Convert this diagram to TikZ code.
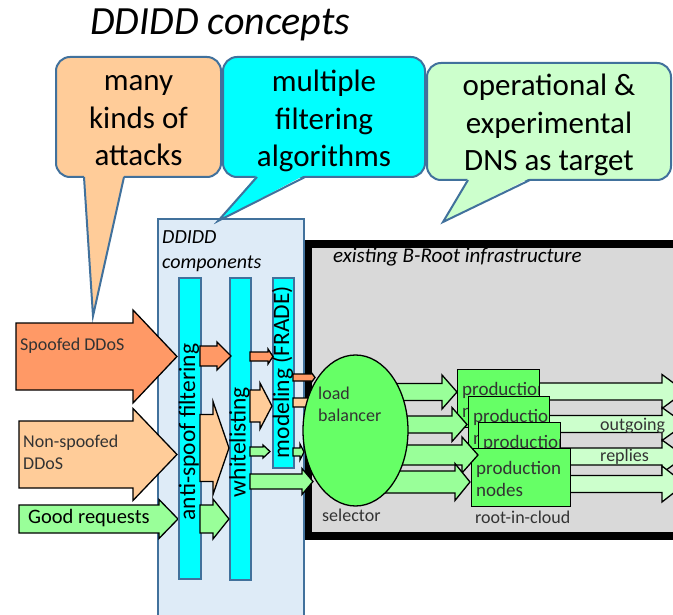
\documentclass[tikz,border=0pt]{standalone}
\usepackage{fontspec}
\setmainfont{Carlito}
\usetikzlibrary{shapes.geometric}
\definecolor{cbord}{HTML}{41719C}
\definecolor{corange}{HTML}{FFCC99}
\definecolor{ccyan}{HTML}{00FFFF}
\definecolor{clgreen}{HTML}{CCFFCC}
\definecolor{cpanel}{HTML}{DEEBF7}
\definecolor{cspoof}{HTML}{FF9966}
\definecolor{cgood}{HTML}{99FF99}
\definecolor{cnode}{HTML}{66FF66}
\definecolor{cgray}{HTML}{D9D9D9}
\definecolor{ctext}{HTML}{333333}
% fill, xstart, xheadbase, xtip, ycenter, body half height, head half height
\newcommand{\blkarrow}[7]{%
  \filldraw[blockarrow, fill=#1] ({#2},{#5-#6}) -- ({#3},{#5-#6}) -- ({#3},{#5-#7}) -- ({#4},{#5}) -- ({#3},{#5+#7}) -- ({#3},{#5+#6}) -- ({#2},{#5+#6}) -- cycle;}
% production node: name, x, y, width, text name
\newcommand{\prodnode}[5]{%
  \node[prodbox, minimum width=#4pt] (#1) at (#2,#3) {};
  \begin{scope}
    \clip ({#2+0.7},{#3+0.7}) rectangle ({#2+#4-0.7},{#3+57.3});
    \node[prodtext] (#5) at ({#2+5},{#3+13}) {production\\nodes};
  \end{scope}}
\begin{document}
\begin{tikzpicture}[x=1pt,y=-1pt,
  calloutline/.style={draw=cbord, line width=2pt},
  blockarrow/.style={draw=black, line width=1.3pt},
  barbox/.style={draw=cbord, fill=ccyan, line width=2pt, inner sep=0pt, anchor=north west},
  prodbox/.style={draw=black, fill=cnode, line width=1.3pt, inner sep=0pt, anchor=north west, minimum height=58pt},
  prodtext/.style={anchor=north west, align=left, inner sep=0pt, text=ctext, font={\fontsize{19}{22}\selectfont}},
  lbl/.style={inner sep=0pt, text=ctext, font={\fontsize{18}{22}\selectfont}},
  calltext/.style={align=center, inner sep=0pt, font={\fontsize{31}{37.5}\selectfont}},
  bartext/.style={rotate=90, inner sep=0pt, font={\fontsize{23.5}{27}\selectfont}}
]
\useasboundingbox (0,0) rectangle (673,615);
\clip (0,0) rectangle (673,615);
\fill[white] (0,0) rectangle (673,615);

% existing B-Root infrastructure panel
\draw[line width=8.5pt, fill=cgray] (307.5,244) rectangle (720,536);
\node[inner sep=0pt, anchor=base west, font={\itshape\fontsize{21}{25}\selectfont}] (broot) at (333,262) {existing B-Root infrastructure};

% DDIDD components panel
\draw[draw=cbord, fill=cpanel, line width=2pt] (158,219) rectangle (304,640);
\node[anchor=north west, align=left, inner sep=0pt, font={\itshape\fontsize{20}{25}\selectfont}] (comp) at (162,230) {DDIDD\\components};

% callouts
\filldraw[calloutline, fill=corange, rounded corners=14pt] (56,57) rectangle (221,177);
\fill[corange] (84,175) -- (93,316) -- (124,175) -- cycle;
\draw[calloutline, line join=miter] (84,177) -- (93,316) -- (124,177);
\node[calltext] (c1) at (138.5,121) {many\\kinds of\\attacks};

\filldraw[calloutline, fill=ccyan, rounded corners=14pt] (223,57) rectangle (425,177);
\fill[ccyan] (257,175) -- (218,221) -- (305,175) -- cycle;
\draw[calloutline, line join=miter] (257,177) -- (218,221) -- (305,177);
\node[calltext] (c2) at (324,121) {multiple\\filtering\\algorithms};

\filldraw[calloutline, fill=clgreen, rounded corners=14pt] (427,63) rectangle (671,180);
\fill[clgreen] (468,178) -- (443,222) -- (530,178) -- cycle;
\draw[calloutline, line join=miter] (468,180) -- (443,222) -- (530,180);
\node[calltext] (c3) at (549,125) {operational \&\\experimental\\DNS as target};

% input arrows
\blkarrow{cspoof}{16}{133}{177}{356.5}{33.5}{46.5}
\blkarrow{corange}{19}{133}{177}{454.5}{33.5}{46}
\blkarrow{cgood}{19}{159}{178}{519}{14}{19.5}

% filter bars
\node[barbox, minimum width=22pt, minimum height=301pt] (bar1) at (178,277) {};
\node[barbox, minimum width=21pt, minimum height=302pt] (bar2) at (229,277) {};
\node[barbox, minimum width=21pt, minimum height=190pt] (bar3) at (272,277) {};
\node[bartext] (l1) at (189,432) {anti-spoof filtering};
\node[bartext] (l2) at (239.5,442) {whitelisting};
\node[bartext] (l3) at (282.5,372) {modeling (FRADE)};

% arrows between bars
\blkarrow{cspoof}{200}{217}{231}{356}{10}{14}
\blkarrow{corange}{200}{213}{229}{448}{33.5}{46.5}
\blkarrow{cgood}{200}{213}{229}{519}{14}{20}
\blkarrow{cspoof}{250}{268}{273}{356.5}{4.5}{7.5}
\blkarrow{corange}{250}{260}{272}{406}{16}{23}
\blkarrow{cgood}{250}{263}{270}{451.5}{4.5}{6.5}
\blkarrow{cgood}{250}{302}{313}{481.5}{7.5}{13}
\blkarrow{cspoof}{293}{311}{315}{377.5}{3.5}{5.5}
\blkarrow{corange}{293}{311}{315}{402.5}{4.5}{7}
\blkarrow{cgood}{293}{300}{304}{452}{4}{8}

% outgoing replies arrows
\blkarrow{clgreen}{520}{662}{685}{391.5}{8.5}{17}
\blkarrow{clgreen}{520}{662}{685}{424}{8.5}{16.5}
\blkarrow{clgreen}{520}{662}{685}{456.5}{8.5}{16.5}
\blkarrow{clgreen}{520}{662}{685}{484}{8.5}{18}

% production nodes
\prodnode{n1}{457}{369}{82}{p1}
\prodnode{n2}{468}{396}{81}{p2}
\prodnode{n3}{478}{422}{82}{p3}
\prodnode{n4}{471}{448}{99}{p4}

% load balancer to nodes
\blkarrow{cgood}{385}{442}{457}{392}{8.5}{17}
\blkarrow{cgood}{385}{452}{467}{424.5}{8.5}{17}
\blkarrow{cgood}{385}{462}{478}{455}{10}{18}
\blkarrow{cgood}{385}{455}{470}{482}{11}{18.5}

% load balancer
\node[draw=black, fill=cnode, ellipse, line width=1.3pt, minimum width=105pt, minimum height=151pt, inner sep=0pt] (lb) at (355.5,430.5) {};

% labels
\node[lbl, anchor=north west, align=left] (lbt) at (318,387) {load\\balancer};
\node[lbl, anchor=base west] (sel) at (322,521) {selector};
\node[lbl, anchor=base west] (ric) at (475,523) {root-in-cloud};
\node[lbl, anchor=base west] (out) at (600,430) {outgoing};
\node[lbl, anchor=base west] (rep) at (600,461) {replies};
\node[lbl, anchor=base west] (spf) at (20,350) {Spoofed DDoS};
\node[lbl, anchor=north west, align=left] (nsp) at (23,435) {Non-spoofed\\DDoS};
\node[inner sep=0pt, anchor=base west, font={\fontsize{20.5}{24}\selectfont}] (good) at (28,523) {Good requests};
\node[anchor=base west, inner sep=0pt, font={\itshape\fontsize{40}{48}\selectfont}] (title) at (90,35) {DDIDD concepts};
\end{tikzpicture}
\end{document}
